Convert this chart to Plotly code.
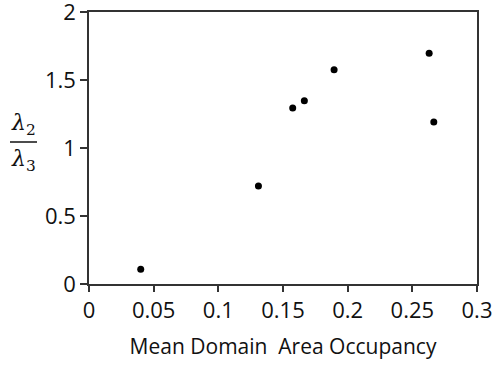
import plotly.graph_objects as go

occupancy = [0.040, 0.131, 0.1575, 0.1665, 0.1895, 0.263, 0.2666]
ratio = [0.108, 0.72, 1.294, 1.348, 1.576, 1.696, 1.191]
x_ticks = [0, 0.05, 0.1, 0.15, 0.2, 0.25, 0.3]
x_labels = ["0", "0.05", "0.1", "0.15", "0.2", "0.25", "0.3"]
y_ticks = [0, 0.5, 1, 1.5, 2]
y_labels = ["0", "0.5", "1", "1.5", "2"]

W, H = 494, 366
L, R, T, B = 89, 17, 12, 82
pw, ph = W - L - R, H - T - B

def px_x(p):
    return (p - L) / pw

def px_y(p):
    return (H - B - p) / ph

axis_col = "#333333"
text_col = "#111111"
font = "Open Sans"

fig = go.Figure(go.Scatter(
    x=occupancy, y=ratio, mode="markers",
    marker=dict(color="black", size=7),
    showlegend=False, cliponaxis=False,
))

fig.update_layout(
    width=W, height=H,
    margin=dict(l=L, r=R, t=T, b=B, autoexpand=False),
    plot_bgcolor="white", paper_bgcolor="white",
    font=dict(family=font, size=22, color=text_col),
    xaxis=dict(
        range=[0, 0.3], tickvals=x_ticks, ticktext=x_labels,
        showgrid=False, zeroline=False, showline=True, linecolor=axis_col,
        linewidth=1.5, mirror=True, ticks="outside", ticklen=6,
        tickwidth=1.5, tickcolor=axis_col, automargin=False,
        ticklabeloverflow="allow",
        title=dict(text="Mean Domain  Area Occupancy",
                   font=dict(family=font, size=21), standoff=16),
    ),
    yaxis=dict(
        range=[0, 2], tickvals=y_ticks, ticktext=y_labels,
        showgrid=False, zeroline=False, showline=True, linecolor=axis_col,
        linewidth=1.5, mirror=True, ticks="outside", ticklen=7,
        tickwidth=1.5, tickcolor=axis_col, automargin=False,
        ticklabeloverflow="allow",
    ),
    annotations=[
        dict(text="<i>λ</i><sub>2</sub>", xref="paper", yref="paper",
             x=px_x(23), y=px_y(124), xanchor="center", yanchor="middle",
             showarrow=False,
             font=dict(family="DejaVu Serif", size=22, color=text_col)),
        dict(text="<i>λ</i><sub>3</sub>", xref="paper", yref="paper",
             x=px_x(23), y=px_y(160), xanchor="center", yanchor="middle",
             showarrow=False,
             font=dict(family="DejaVu Serif", size=22, color=text_col)),
    ],
    shapes=[
        dict(type="line", xref="paper", yref="paper",
             x0=px_x(10), x1=px_x(37), y0=px_y(142), y1=px_y(142),
             line=dict(color=text_col, width=1.5)),
    ],
)

fig.write_html("out.html", config={"displayModeBar": False},
               post_script="document.body.style.margin='0';")
